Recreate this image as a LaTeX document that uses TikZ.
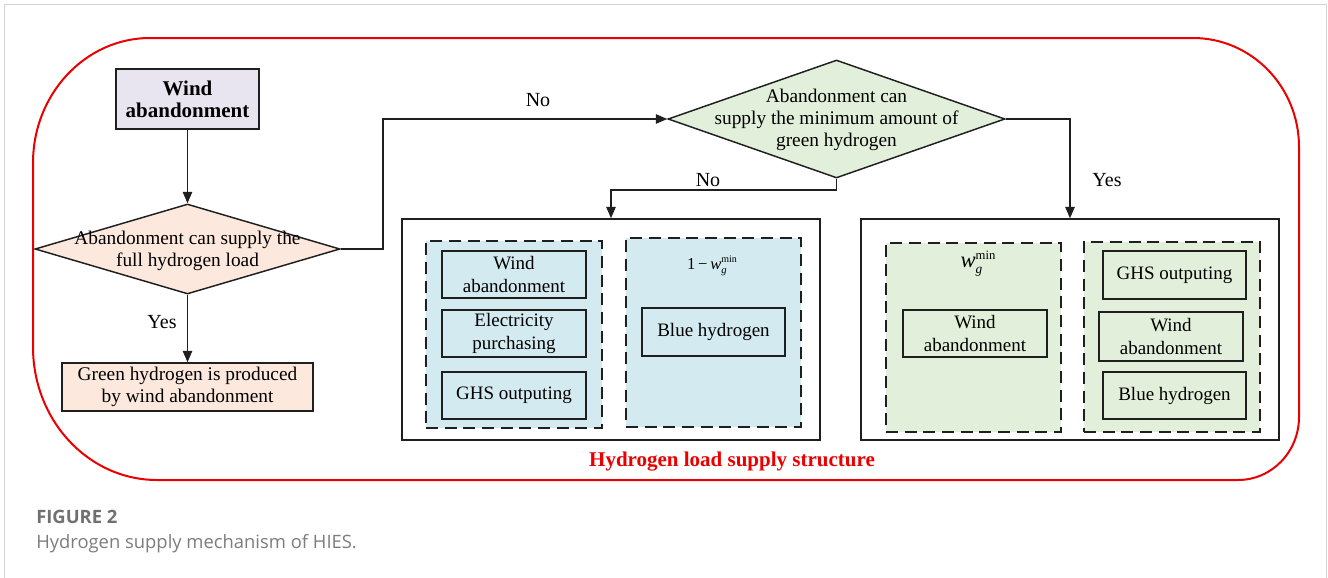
\documentclass[tikz,border=0pt]{standalone}
\usepackage{fontspec}
\setmainfont{Liberation Serif}
\newfontfamily\capfont{Open Sans}
\usetikzlibrary{shapes.geometric,arrows.meta}
\definecolor{lav}{RGB}{233,229,240}
\definecolor{peach}{RGB}{252,232,220}
\definecolor{lgreen}{RGB}{226,239,218}
\definecolor{lblue}{RGB}{211,234,240}
\definecolor{myred}{RGB}{235,0,0}
\definecolor{capgray}{RGB}{112,112,112}
\definecolor{capgray2}{RGB}{125,125,125}
\definecolor{framegray}{RGB}{212,212,212}
\newcommand\fA{\fontsize{14.25pt}{17pt}\selectfont}
\newcommand\fB{\fontsize{15.75pt}{16.5pt}\selectfont\bfseries}
\newcommand\fL{\fontsize{15pt}{17pt}\selectfont}
\tikzset{
  box/.style={draw=black!88, line width=1.1pt, inner sep=0pt, align=center, font=\fA},
  dbox/.style={draw=black!88, line width=1.1pt, dash pattern=on 9pt off 5pt, inner sep=0pt},
  bigbox/.style={draw=black!88, line width=1.1pt, inner sep=0pt},
  dia/.style={draw=black!88, line width=1.1pt, diamond, inner sep=0pt},
  conn/.style={draw=black!88, line width=1.1pt, -{Triangle[length=8.5pt,width=7pt]}},
  line/.style={draw=black!88, line width=1.1pt},
  lab/.style={font=\fL, inner sep=0pt},
  txt/.style={font=\fA, align=center, inner sep=0pt},
}
\begin{document}
\begin{tikzpicture}[x=0.75pt,y=-0.75pt]
\useasboundingbox (0,0) rectangle (1328,578);
\fill[white] (0,0) rectangle (1328,578);
% outer frame
\draw[framegray, line width=1.1pt] (4.5,578) -- (4.5,4.5) -- (1326.5,4.5) -- (1326.5,578);
% red rounded region
\draw[myred, line width=1.5pt] (33,163) .. controls (33,94) and (85.4,38) .. (150,38)
  -- (1193,38) .. controls (1251.5,38) and (1299,86.8) .. (1299,147)
  -- (1299,417) .. controls (1299,451.8) and (1271.7,480) .. (1238,480)
  -- (157,480) .. controls (88.5,480) and (33,420.5) .. (33,347) -- cycle;
\node[font=\fB, text=myred, inner sep=0pt] (title) at (732,462) {Hydrogen load supply structure};

% left flow
\node[box, fill=lav, font=\fB, minimum width=107.25pt, minimum height=45pt] (wind) at (187.5,99) {Wind\\abandonment};
\node[dia, fill=peach, minimum width=228.75pt, minimum height=67.5pt] (d1) at (187.5,249) {};
\node[txt, font=\fontsize{14.5pt}{16.5pt}\selectfont] (d1t) at (187.5,251) {Abandonment can supply the\\full hydrogen load};
\node[box, fill=peach, minimum width=188.25pt, minimum height=36pt, font=\fontsize{14.5pt}{16.5pt}\selectfont] (green) at (187.5,387) {Green hydrogen is produced\\by wind abandonment};
\draw[conn] (wind.south) -- (d1.north);
\draw[conn] (d1.south) -- (green.north);
\node[lab] (yes1) at (162,322) {Yes};

% second decision
\node[dia, fill=lgreen, minimum width=252.75pt, minimum height=88.5pt] (d2) at (836.5,119) {};
\node[txt, font=\fontsize{14.5pt}{16.5pt}\selectfont] (d2t) at (836.5,120) {Abandonment can\\supply the minimum amount of\\green hydrogen};
\draw[conn] (d1.east) -- (383,249) -- (383,119) -- (d2.west);
\node[lab] (no1) at (538,100) {No};

% left big box
\node[bigbox, minimum width=313.5pt, minimum height=165.75pt] (L) at (611,329.5) {};
\node[dbox, fill=lblue, minimum width=132pt, minimum height=140.25pt] (Lc1) at (514,334.5) {};
\node[dbox, fill=lblue, minimum width=131.25pt, minimum height=141.75pt] (Lc2) at (713.5,332.5) {};
\node[box, minimum width=108pt, minimum height=35.25pt] (wa1) at (514,274.5) {Wind\\abandonment};
\node[box, minimum width=108pt, minimum height=35.25pt] (ep) at (514,333.5) {Electricity\\purchasing};
\node[box, minimum width=108pt, minimum height=35.25pt] (ghs1) at (514,395.5) {GHS outputing};
\node[box, minimum width=107.25pt, minimum height=36pt] (bh1) at (713.5,332) {Blue hydrogen};
\node[inner sep=0pt, font=\fontsize{12.5pt}{13pt}\selectfont] (m1) at (712,266) {1\,−\,\textit{w}\rlap{\raisebox{-0.55ex}{\fontsize{8pt}{8pt}\selectfont\textit{g}}}\raisebox{0.85ex}{\fontsize{7.5pt}{8pt}\selectfont min}};

% right big box
\node[bigbox, minimum width=313.5pt, minimum height=165.75pt] (R) at (1070,329.5) {};
\node[dbox, fill=lgreen, minimum width=131.25pt, minimum height=141.75pt] (Rc1) at (973.5,337.5) {};
\node[dbox, fill=lgreen, minimum width=132pt, minimum height=142.5pt] (Rc2) at (1172,337) {};
\node[box, minimum width=108pt, minimum height=35.25pt] (wa2) at (975,333.5) {Wind\\abandonment};
\node[box, minimum width=107.25pt, minimum height=36pt] (ghs2) at (1174.5,275) {GHS outputing};
\node[box, minimum width=108pt, minimum height=36.75pt] (wa3) at (1171,336.5) {Wind\\abandonment};
\node[box, minimum width=107.25pt, minimum height=35.25pt] (bh2) at (1174.5,395.5) {Blue hydrogen};
\node[inner sep=0pt, font=\fontsize{17pt}{18pt}\selectfont] (m2) at (978,264) {\textit{w}\rlap{\raisebox{-0.6ex}{\fontsize{10pt}{10pt}\selectfont\textit{g}}}\raisebox{0.75ex}{\fontsize{9.5pt}{10pt}\selectfont min}};

% branches from second decision
\draw[conn] (d2.south) -- (836.5,190) -- (611,190) -- (L.north);
\node[lab] (no2) at (708,180) {No};
\draw[conn] (d2.east) -- (1070,119) -- (R.north);
\node[lab] (yes2) at (1107,180) {Yes};

% caption
\node[anchor=base west, inner sep=0pt, font=\capfont\bfseries\fontsize{13.8pt}{15pt}\selectfont, text=capgray] (cap1) at (36,523) {FIGURE 2};
\node[anchor=base west, inner sep=0pt, font=\capfont\fontsize{13.8pt}{15pt}\selectfont, text=capgray2] (cap2) at (36,548) {Hydrogen supply mechanism of HIES.};
\end{tikzpicture}
\end{document}
